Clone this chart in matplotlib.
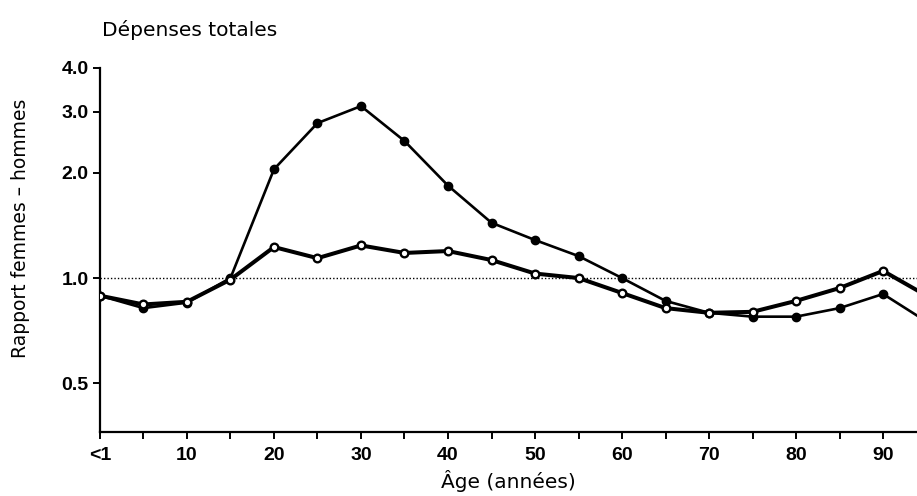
import matplotlib
matplotlib.use('Agg')
import matplotlib.pyplot as plt
from matplotlib.ticker import FixedLocator, NullLocator, FixedFormatter

plt.rcParams['font.family'] = ['DejaVu Sans']

# Age groups (0 stands for "<1")
ages = [0, 5, 10, 15, 20, 25, 30, 35, 40, 45, 50, 55, 60, 65, 70, 75, 80, 85, 90, 95]

# Female/male ratio of total expenses, including maternity (filled dots)
ratio_total = [0.89, 0.82, 0.85, 1.00, 2.05, 2.78, 3.11, 2.47, 1.84, 1.44,
               1.285, 1.156, 1.00, 0.86, 0.795, 0.775, 0.775, 0.82, 0.90, 0.75]

# Female/male ratio excluding maternity (open dots)
ratio_excl = [0.89, 0.84, 0.855, 0.99, 1.227, 1.14, 1.24, 1.18, 1.195, 1.126,
              1.03, 1.00, 0.906, 0.82, 0.795, 0.80, 0.86, 0.936, 1.048, 0.89]

x_ticks = [0, 10, 20, 30, 40, 50, 60, 70, 80, 90]
x_tick_labels = ['<1', '10', '20', '30', '40', '50', '60', '70', '80', '90']
y_ticks = [0.5, 1.0, 2.0, 3.0, 4.0]
y_tick_labels = ['0.5', '1.0', '2.0', '3.0', '4.0']

fig = plt.figure(figsize=(9.17, 4.96), dpi=100)
ax = fig.add_axes([0.109, 0.129, 0.891, 0.734])

ax.axhline(1.0, color='black', lw=1.0, linestyle=(0, (1, 1.5)), zorder=1)

ax.plot(ages, ratio_total, color='black', lw=1.9, marker='o', markersize=6,
        markerfacecolor='black', markeredgecolor='black', zorder=3)
ax.plot(ages, ratio_excl, color='black', lw=2.9, marker='o', markersize=5.5,
        markerfacecolor='white', markeredgecolor='black', markeredgewidth=1.7, zorder=4)

ax.set_yscale('log')
ax.set_ylim(0.362, 4.0)
ax.set_xlim(0, 93.9)

ax.yaxis.set_major_locator(FixedLocator(y_ticks))
ax.yaxis.set_major_formatter(FixedFormatter(y_tick_labels))
ax.yaxis.set_minor_locator(NullLocator())
ax.xaxis.set_major_locator(FixedLocator(x_ticks))
ax.xaxis.set_major_formatter(FixedFormatter(x_tick_labels))
ax.xaxis.set_minor_locator(FixedLocator([5, 15, 25, 35, 45, 55, 65, 75, 85]))

ax.spines['top'].set_visible(False)
ax.spines['right'].set_visible(False)
ax.spines['left'].set_linewidth(1.6)
ax.spines['bottom'].set_linewidth(1.6)

ax.tick_params(axis='both', which='both', direction='out', width=1.4, length=5,
               labelsize=13)
ax.tick_params(axis='y', pad=3)
ax.tick_params(axis='x', pad=6)
for lab in ax.get_xticklabels() + ax.get_yticklabels():
    lab.set_family(['Liberation Sans'])
    lab.set_fontweight('bold')
    lab.set_fontsize(14)

ax.set_xlabel('Âge (années)', fontsize=14.5, labelpad=4)
fig.text(0.022, 0.54, 'Rapport femmes – hommes', rotation=90, fontsize=13.5,
         ha='center', va='center')
fig.text(0.111, 0.94, 'Dépenses totales', fontsize=14.5, ha='left', va='center')

fig.savefig('out.png', dpi=100)
